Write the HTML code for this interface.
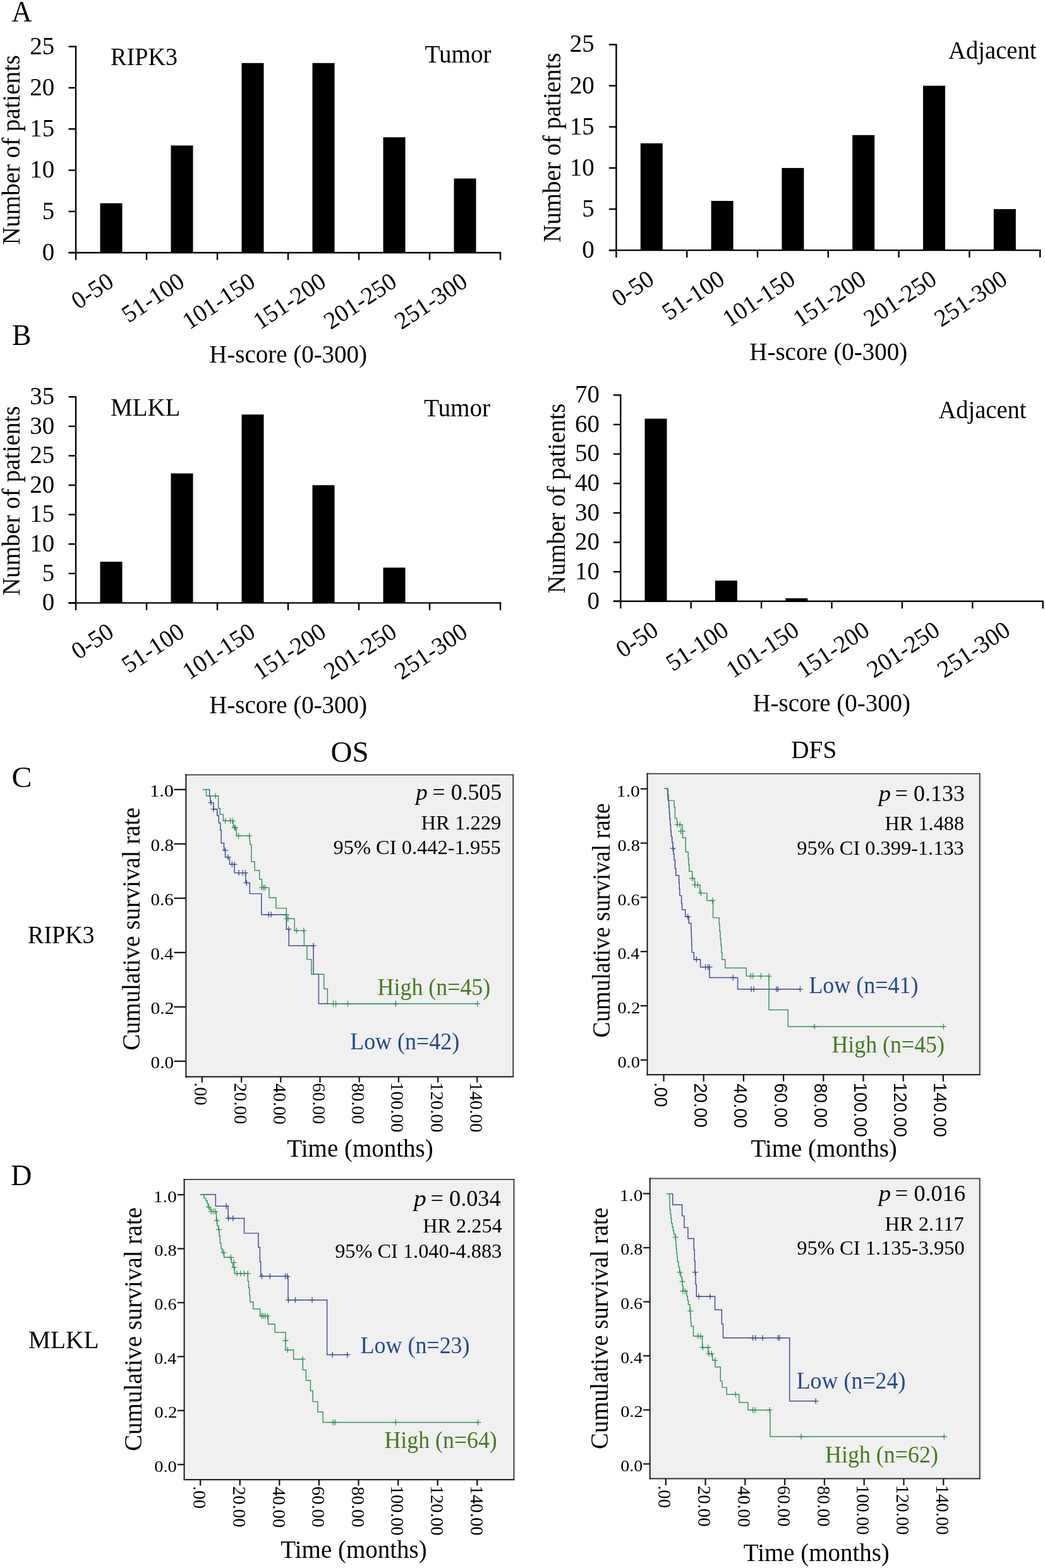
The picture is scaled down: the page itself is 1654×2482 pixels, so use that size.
<!DOCTYPE html>
<html><head><meta charset="utf-8"><title>RIPK3 and MLKL expression and survival</title>
<style>html,body{margin:0;padding:0;background:#fff}svg{display:block;font-family:'Liberation Serif','Times New Roman',serif}</style>
</head><body>
<svg width="1654" height="2482" viewBox="0 0 1654 2482">
<rect width="1654" height="2482" fill="#fff"/>
<text x="18.38" y="34" font-size="45.5" textLength="32.04" lengthAdjust="spacingAndGlyphs">A</text>
<text x="18.95" y="545.9" font-size="45.5" textLength="30.6" lengthAdjust="spacingAndGlyphs">B</text>
<text x="18.48" y="1245.6" font-size="45.5" textLength="32.02" lengthAdjust="spacingAndGlyphs">C</text>
<text x="17.35" y="1876.4" font-size="45.5" textLength="33.15" lengthAdjust="spacingAndGlyphs">D</text>
<line x1="120" y1="72.5" x2="120" y2="401.2" stroke="#000" stroke-width="2.4"/>
<line x1="108.5" y1="400" x2="120" y2="400" stroke="#000" stroke-width="2.4"/>
<text x="66.77" y="411.8" font-size="39" textLength="19.5" lengthAdjust="spacingAndGlyphs">0</text>
<line x1="108.5" y1="334.74" x2="120" y2="334.74" stroke="#000" stroke-width="2.4"/>
<text x="66.77" y="346.54" font-size="39" textLength="19.5" lengthAdjust="spacingAndGlyphs">5</text>
<line x1="108.5" y1="269.48" x2="120" y2="269.48" stroke="#000" stroke-width="2.4"/>
<text x="47.27" y="281.28" font-size="39" textLength="39" lengthAdjust="spacingAndGlyphs">10</text>
<line x1="108.5" y1="204.22" x2="120" y2="204.22" stroke="#000" stroke-width="2.4"/>
<text x="47.27" y="216.02" font-size="39" textLength="39" lengthAdjust="spacingAndGlyphs">15</text>
<line x1="108.5" y1="138.96" x2="120" y2="138.96" stroke="#000" stroke-width="2.4"/>
<text x="47.27" y="150.76" font-size="39" textLength="39" lengthAdjust="spacingAndGlyphs">20</text>
<line x1="108.5" y1="73.7" x2="120" y2="73.7" stroke="#000" stroke-width="2.4"/>
<text x="47.27" y="85.5" font-size="39" textLength="39" lengthAdjust="spacingAndGlyphs">25</text>
<line x1="108.5" y1="400" x2="793.2" y2="400" stroke="#000" stroke-width="2.4"/>
<line x1="120" y1="400" x2="120" y2="411.5" stroke="#000" stroke-width="2.4"/>
<line x1="232" y1="400" x2="232" y2="411.5" stroke="#000" stroke-width="2.4"/>
<line x1="344" y1="400" x2="344" y2="411.5" stroke="#000" stroke-width="2.4"/>
<line x1="456" y1="400" x2="456" y2="411.5" stroke="#000" stroke-width="2.4"/>
<line x1="568" y1="400" x2="568" y2="411.5" stroke="#000" stroke-width="2.4"/>
<line x1="680" y1="400" x2="680" y2="411.5" stroke="#000" stroke-width="2.4"/>
<line x1="792" y1="400" x2="792" y2="411.5" stroke="#000" stroke-width="2.4"/>
<rect x="158.5" y="321.69" width="35" height="78.31" fill="#000"/>
<text transform="translate(182.5,451.65) rotate(-33.5)" font-size="38.5" text-anchor="end">0-50</text>
<rect x="270.5" y="230.32" width="35" height="169.68" fill="#000"/>
<text transform="translate(294.5,451.65) rotate(-33.5)" font-size="38.5" text-anchor="end">51-100</text>
<rect x="382.5" y="99.8" width="35" height="300.2" fill="#000"/>
<text transform="translate(406.5,451.65) rotate(-33.5)" font-size="38.5" text-anchor="end">101-150</text>
<rect x="494.5" y="99.8" width="35" height="300.2" fill="#000"/>
<text transform="translate(518.5,451.65) rotate(-33.5)" font-size="38.5" text-anchor="end">151-200</text>
<rect x="606.5" y="217.27" width="35" height="182.73" fill="#000"/>
<text transform="translate(630.5,451.65) rotate(-33.5)" font-size="38.5" text-anchor="end">201-250</text>
<rect x="718.5" y="282.53" width="35" height="117.47" fill="#000"/>
<text transform="translate(742.5,451.65) rotate(-33.5)" font-size="38.5" text-anchor="end">251-300</text>
<text transform="translate(30.6,387.57) rotate(-90)" font-size="39" textLength="300.44" lengthAdjust="spacingAndGlyphs">Number of patients</text>
<text x="331.13" y="574" font-size="39" textLength="249.9" lengthAdjust="spacingAndGlyphs">H-score (0-300)</text>
<text x="175.05" y="102.7" font-size="39.5" textLength="105.93" lengthAdjust="spacingAndGlyphs">RIPK3</text>
<text x="672.51" y="99.3" font-size="40" textLength="105.14" lengthAdjust="spacingAndGlyphs">Tumor</text>
<line x1="975.4" y1="69.4" x2="975.4" y2="397.3" stroke="#000" stroke-width="2.4"/>
<line x1="963.9" y1="396.1" x2="975.4" y2="396.1" stroke="#000" stroke-width="2.4"/>
<text x="921.37" y="407.9" font-size="39" textLength="19.5" lengthAdjust="spacingAndGlyphs">0</text>
<line x1="963.9" y1="331" x2="975.4" y2="331" stroke="#000" stroke-width="2.4"/>
<text x="921.37" y="342.8" font-size="39" textLength="19.5" lengthAdjust="spacingAndGlyphs">5</text>
<line x1="963.9" y1="265.9" x2="975.4" y2="265.9" stroke="#000" stroke-width="2.4"/>
<text x="901.87" y="277.7" font-size="39" textLength="39" lengthAdjust="spacingAndGlyphs">10</text>
<line x1="963.9" y1="200.8" x2="975.4" y2="200.8" stroke="#000" stroke-width="2.4"/>
<text x="901.87" y="212.6" font-size="39" textLength="39" lengthAdjust="spacingAndGlyphs">15</text>
<line x1="963.9" y1="135.7" x2="975.4" y2="135.7" stroke="#000" stroke-width="2.4"/>
<text x="901.87" y="147.5" font-size="39" textLength="39" lengthAdjust="spacingAndGlyphs">20</text>
<line x1="963.9" y1="70.6" x2="975.4" y2="70.6" stroke="#000" stroke-width="2.4"/>
<text x="901.87" y="82.4" font-size="39" textLength="39" lengthAdjust="spacingAndGlyphs">25</text>
<line x1="963.9" y1="396.1" x2="1647.4" y2="396.1" stroke="#000" stroke-width="2.4"/>
<line x1="975.4" y1="396.1" x2="975.4" y2="407.6" stroke="#000" stroke-width="2.4"/>
<line x1="1087.2" y1="396.1" x2="1087.2" y2="407.6" stroke="#000" stroke-width="2.4"/>
<line x1="1199" y1="396.1" x2="1199" y2="407.6" stroke="#000" stroke-width="2.4"/>
<line x1="1310.8" y1="396.1" x2="1310.8" y2="407.6" stroke="#000" stroke-width="2.4"/>
<line x1="1422.6" y1="396.1" x2="1422.6" y2="407.6" stroke="#000" stroke-width="2.4"/>
<line x1="1534.4" y1="396.1" x2="1534.4" y2="407.6" stroke="#000" stroke-width="2.4"/>
<line x1="1646.2" y1="396.1" x2="1646.2" y2="407.6" stroke="#000" stroke-width="2.4"/>
<rect x="1013.8" y="226.84" width="35" height="169.26" fill="#000"/>
<text transform="translate(1037.8,447.75) rotate(-33.5)" font-size="38.5" text-anchor="end">0-50</text>
<rect x="1125.6" y="317.98" width="35" height="78.12" fill="#000"/>
<text transform="translate(1149.6,447.75) rotate(-33.5)" font-size="38.5" text-anchor="end">51-100</text>
<rect x="1237.4" y="265.9" width="35" height="130.2" fill="#000"/>
<text transform="translate(1261.4,447.75) rotate(-33.5)" font-size="38.5" text-anchor="end">101-150</text>
<rect x="1349.2" y="213.82" width="35" height="182.28" fill="#000"/>
<text transform="translate(1373.2,447.75) rotate(-33.5)" font-size="38.5" text-anchor="end">151-200</text>
<rect x="1461" y="135.7" width="35" height="260.4" fill="#000"/>
<text transform="translate(1485,447.75) rotate(-33.5)" font-size="38.5" text-anchor="end">201-250</text>
<rect x="1572.8" y="331" width="35" height="65.1" fill="#000"/>
<text transform="translate(1596.8,447.75) rotate(-33.5)" font-size="38.5" text-anchor="end">251-300</text>
<text transform="translate(886.6,383.67) rotate(-90)" font-size="39" textLength="300.04" lengthAdjust="spacingAndGlyphs">Number of patients</text>
<text x="1186.33" y="570.3" font-size="39" textLength="249.9" lengthAdjust="spacingAndGlyphs">H-score (0-300)</text>
<text x="1501.11" y="92.6" font-size="40" textLength="139.46" lengthAdjust="spacingAndGlyphs">Adjacent</text>
<line x1="120" y1="627" x2="120" y2="955.6" stroke="#000" stroke-width="2.4"/>
<line x1="108.5" y1="954.4" x2="120" y2="954.4" stroke="#000" stroke-width="2.4"/>
<text x="66.77" y="966.2" font-size="39" textLength="19.5" lengthAdjust="spacingAndGlyphs">0</text>
<line x1="108.5" y1="907.8" x2="120" y2="907.8" stroke="#000" stroke-width="2.4"/>
<text x="66.77" y="919.6" font-size="39" textLength="19.5" lengthAdjust="spacingAndGlyphs">5</text>
<line x1="108.5" y1="861.2" x2="120" y2="861.2" stroke="#000" stroke-width="2.4"/>
<text x="47.27" y="873" font-size="39" textLength="39" lengthAdjust="spacingAndGlyphs">10</text>
<line x1="108.5" y1="814.6" x2="120" y2="814.6" stroke="#000" stroke-width="2.4"/>
<text x="47.27" y="826.4" font-size="39" textLength="39" lengthAdjust="spacingAndGlyphs">15</text>
<line x1="108.5" y1="768" x2="120" y2="768" stroke="#000" stroke-width="2.4"/>
<text x="47.27" y="779.8" font-size="39" textLength="39" lengthAdjust="spacingAndGlyphs">20</text>
<line x1="108.5" y1="721.4" x2="120" y2="721.4" stroke="#000" stroke-width="2.4"/>
<text x="47.27" y="733.2" font-size="39" textLength="39" lengthAdjust="spacingAndGlyphs">25</text>
<line x1="108.5" y1="674.8" x2="120" y2="674.8" stroke="#000" stroke-width="2.4"/>
<text x="47.27" y="686.6" font-size="39" textLength="39" lengthAdjust="spacingAndGlyphs">30</text>
<line x1="108.5" y1="628.2" x2="120" y2="628.2" stroke="#000" stroke-width="2.4"/>
<text x="47.27" y="640" font-size="39" textLength="39" lengthAdjust="spacingAndGlyphs">35</text>
<line x1="108.5" y1="954.4" x2="793.2" y2="954.4" stroke="#000" stroke-width="2.4"/>
<line x1="120" y1="954.4" x2="120" y2="965.9" stroke="#000" stroke-width="2.4"/>
<line x1="232" y1="954.4" x2="232" y2="965.9" stroke="#000" stroke-width="2.4"/>
<line x1="344" y1="954.4" x2="344" y2="965.9" stroke="#000" stroke-width="2.4"/>
<line x1="456" y1="954.4" x2="456" y2="965.9" stroke="#000" stroke-width="2.4"/>
<line x1="568" y1="954.4" x2="568" y2="965.9" stroke="#000" stroke-width="2.4"/>
<line x1="680" y1="954.4" x2="680" y2="965.9" stroke="#000" stroke-width="2.4"/>
<line x1="792" y1="954.4" x2="792" y2="965.9" stroke="#000" stroke-width="2.4"/>
<rect x="158.5" y="889.16" width="35" height="65.24" fill="#000"/>
<text transform="translate(182.5,1006.05) rotate(-33.5)" font-size="38.5" text-anchor="end">0-50</text>
<rect x="270.5" y="749.36" width="35" height="205.04" fill="#000"/>
<text transform="translate(294.5,1006.05) rotate(-33.5)" font-size="38.5" text-anchor="end">51-100</text>
<rect x="382.5" y="656.16" width="35" height="298.24" fill="#000"/>
<text transform="translate(406.5,1006.05) rotate(-33.5)" font-size="38.5" text-anchor="end">101-150</text>
<rect x="494.5" y="768" width="35" height="186.4" fill="#000"/>
<text transform="translate(518.5,1006.05) rotate(-33.5)" font-size="38.5" text-anchor="end">151-200</text>
<rect x="606.5" y="898.48" width="35" height="55.92" fill="#000"/>
<text transform="translate(630.5,1006.05) rotate(-33.5)" font-size="38.5" text-anchor="end">201-250</text>
<text transform="translate(742.5,1006.05) rotate(-33.5)" font-size="38.5" text-anchor="end">251-300</text>
<text transform="translate(30.6,942.87) rotate(-90)" font-size="39" textLength="300.34" lengthAdjust="spacingAndGlyphs">Number of patients</text>
<text x="331.13" y="1128.8" font-size="39" textLength="249.9" lengthAdjust="spacingAndGlyphs">H-score (0-300)</text>
<text x="175.03" y="657.8" font-size="39.5" textLength="110.33" lengthAdjust="spacingAndGlyphs">MLKL</text>
<text x="670.91" y="659" font-size="40" textLength="105.14" lengthAdjust="spacingAndGlyphs">Tumor</text>
<line x1="982.3" y1="624.2" x2="982.3" y2="952.9" stroke="#000" stroke-width="2.4"/>
<line x1="970.8" y1="951.7" x2="982.3" y2="951.7" stroke="#000" stroke-width="2.4"/>
<text x="929.57" y="963.5" font-size="39" textLength="19.5" lengthAdjust="spacingAndGlyphs">0</text>
<line x1="970.8" y1="905.09" x2="982.3" y2="905.09" stroke="#000" stroke-width="2.4"/>
<text x="910.07" y="916.89" font-size="39" textLength="39" lengthAdjust="spacingAndGlyphs">10</text>
<line x1="970.8" y1="858.47" x2="982.3" y2="858.47" stroke="#000" stroke-width="2.4"/>
<text x="910.07" y="870.27" font-size="39" textLength="39" lengthAdjust="spacingAndGlyphs">20</text>
<line x1="970.8" y1="811.86" x2="982.3" y2="811.86" stroke="#000" stroke-width="2.4"/>
<text x="910.07" y="823.66" font-size="39" textLength="39" lengthAdjust="spacingAndGlyphs">30</text>
<line x1="970.8" y1="765.24" x2="982.3" y2="765.24" stroke="#000" stroke-width="2.4"/>
<text x="910.07" y="777.04" font-size="39" textLength="39" lengthAdjust="spacingAndGlyphs">40</text>
<line x1="970.8" y1="718.63" x2="982.3" y2="718.63" stroke="#000" stroke-width="2.4"/>
<text x="910.07" y="730.43" font-size="39" textLength="39" lengthAdjust="spacingAndGlyphs">50</text>
<line x1="970.8" y1="672.01" x2="982.3" y2="672.01" stroke="#000" stroke-width="2.4"/>
<text x="910.07" y="683.81" font-size="39" textLength="39" lengthAdjust="spacingAndGlyphs">60</text>
<line x1="970.8" y1="625.4" x2="982.3" y2="625.4" stroke="#000" stroke-width="2.4"/>
<text x="910.07" y="637.2" font-size="39" textLength="39" lengthAdjust="spacingAndGlyphs">70</text>
<line x1="970.8" y1="951.7" x2="1651.8" y2="951.7" stroke="#000" stroke-width="2.4"/>
<line x1="982.3" y1="951.7" x2="982.3" y2="963.2" stroke="#000" stroke-width="2.4"/>
<line x1="1093.7" y1="951.7" x2="1093.7" y2="963.2" stroke="#000" stroke-width="2.4"/>
<line x1="1205.1" y1="951.7" x2="1205.1" y2="963.2" stroke="#000" stroke-width="2.4"/>
<line x1="1316.5" y1="951.7" x2="1316.5" y2="963.2" stroke="#000" stroke-width="2.4"/>
<line x1="1427.9" y1="951.7" x2="1427.9" y2="963.2" stroke="#000" stroke-width="2.4"/>
<line x1="1539.3" y1="951.7" x2="1539.3" y2="963.2" stroke="#000" stroke-width="2.4"/>
<line x1="1650.7" y1="951.7" x2="1650.7" y2="963.2" stroke="#000" stroke-width="2.4"/>
<rect x="1020.5" y="662.69" width="35" height="289.01" fill="#000"/>
<text transform="translate(1044.5,1003.35) rotate(-33.5)" font-size="38.5" text-anchor="end">0-50</text>
<rect x="1131.9" y="919.07" width="35" height="32.63" fill="#000"/>
<text transform="translate(1155.9,1003.35) rotate(-33.5)" font-size="38.5" text-anchor="end">51-100</text>
<rect x="1243.3" y="947.04" width="35" height="4.66" fill="#000"/>
<text transform="translate(1267.3,1003.35) rotate(-33.5)" font-size="38.5" text-anchor="end">101-150</text>
<text transform="translate(1378.7,1003.35) rotate(-33.5)" font-size="38.5" text-anchor="end">151-200</text>
<text transform="translate(1490.1,1003.35) rotate(-33.5)" font-size="38.5" text-anchor="end">201-250</text>
<text transform="translate(1601.5,1003.35) rotate(-33.5)" font-size="38.5" text-anchor="end">251-300</text>
<text transform="translate(894.3,939.17) rotate(-90)" font-size="39" textLength="300.54" lengthAdjust="spacingAndGlyphs">Number of patients</text>
<text x="1191.53" y="1125.9" font-size="39" textLength="249.49" lengthAdjust="spacingAndGlyphs">H-score (0-300)</text>
<text x="1485.41" y="661.5" font-size="40" textLength="139.06" lengthAdjust="spacingAndGlyphs">Adjacent</text>
<rect x="296.4" y="1228.5" width="513.8" height="473.9" fill="#f0f0f0"/>
<line x1="293.4" y1="1226.5" x2="813.2" y2="1226.5" stroke="#4a4a4a" stroke-width="2"/>
<line x1="812.2" y1="1226.5" x2="812.2" y2="1704.4" stroke="#3c3c3c" stroke-width="2"/>
<line x1="293.4" y1="1704.4" x2="813.2" y2="1704.4" stroke="#262626" stroke-width="2.2"/>
<line x1="294.4" y1="1225.5" x2="294.4" y2="1705.4" stroke="#161616" stroke-width="2"/>
<line x1="275.5" y1="1249.8" x2="294.4" y2="1249.8" stroke="#1a1a1a" stroke-width="2.3"/>
<text x="237.01" y="1261.3" font-size="27" textLength="38.05" lengthAdjust="spacingAndGlyphs">1.0</text>
<line x1="275.5" y1="1335.8" x2="294.4" y2="1335.8" stroke="#1a1a1a" stroke-width="2.3"/>
<text x="238.58" y="1347.3" font-size="27" textLength="36.44" lengthAdjust="spacingAndGlyphs">0.8</text>
<line x1="275.5" y1="1421.8" x2="294.4" y2="1421.8" stroke="#1a1a1a" stroke-width="2.3"/>
<text x="238.59" y="1433.3" font-size="27" textLength="36.13" lengthAdjust="spacingAndGlyphs">0.6</text>
<line x1="275.5" y1="1507.8" x2="294.4" y2="1507.8" stroke="#1a1a1a" stroke-width="2.3"/>
<text x="238.6" y="1519.3" font-size="27" textLength="35.83" lengthAdjust="spacingAndGlyphs">0.4</text>
<line x1="275.5" y1="1593.8" x2="294.4" y2="1593.8" stroke="#1a1a1a" stroke-width="2.3"/>
<text x="238.56" y="1605.3" font-size="27" textLength="37.07" lengthAdjust="spacingAndGlyphs">0.2</text>
<line x1="275.5" y1="1679.8" x2="294.4" y2="1679.8" stroke="#1a1a1a" stroke-width="2.3"/>
<text x="238.58" y="1691.3" font-size="27" textLength="36.44" lengthAdjust="spacingAndGlyphs">0.0</text>
<line x1="319.9" y1="1704.4" x2="319.9" y2="1713.5" stroke="#1a1a1a" stroke-width="2.3"/>
<text transform="translate(308.4,1713.62) rotate(90)" font-size="28.8" textLength="36.09" lengthAdjust="spacingAndGlyphs">.00</text>
<line x1="382.1" y1="1704.4" x2="382.1" y2="1713.5" stroke="#1a1a1a" stroke-width="2.3"/>
<text transform="translate(370.6,1714.35) rotate(90)" font-size="28.8" textLength="64.97" lengthAdjust="spacingAndGlyphs">20.00</text>
<line x1="444.3" y1="1704.4" x2="444.3" y2="1713.5" stroke="#1a1a1a" stroke-width="2.3"/>
<text transform="translate(432.8,1715.07) rotate(90)" font-size="28.8" textLength="64.97" lengthAdjust="spacingAndGlyphs">40.00</text>
<line x1="506.5" y1="1704.4" x2="506.5" y2="1713.5" stroke="#1a1a1a" stroke-width="2.3"/>
<text transform="translate(495,1714.35) rotate(90)" font-size="28.8" textLength="64.97" lengthAdjust="spacingAndGlyphs">60.00</text>
<line x1="568.7" y1="1704.4" x2="568.7" y2="1713.5" stroke="#1a1a1a" stroke-width="2.3"/>
<text transform="translate(557.2,1714.49) rotate(90)" font-size="28.8" textLength="64.97" lengthAdjust="spacingAndGlyphs">80.00</text>
<line x1="630.9" y1="1704.4" x2="630.9" y2="1713.5" stroke="#1a1a1a" stroke-width="2.3"/>
<text transform="translate(619.4,1713.05) rotate(90)" font-size="28.8" textLength="79.4" lengthAdjust="spacingAndGlyphs">100.00</text>
<line x1="693.1" y1="1704.4" x2="693.1" y2="1713.5" stroke="#1a1a1a" stroke-width="2.3"/>
<text transform="translate(681.6,1713.05) rotate(90)" font-size="28.8" textLength="79.4" lengthAdjust="spacingAndGlyphs">120.00</text>
<line x1="755.3" y1="1704.4" x2="755.3" y2="1713.5" stroke="#1a1a1a" stroke-width="2.3"/>
<text transform="translate(743.8,1713.05) rotate(90)" font-size="28.8" textLength="79.4" lengthAdjust="spacingAndGlyphs">140.00</text>
<rect x="1026.6" y="1226.7" width="522.1" height="472.5" fill="#f0f0f0"/>
<line x1="1023.6" y1="1224.7" x2="1551.7" y2="1224.7" stroke="#4a4a4a" stroke-width="2"/>
<line x1="1550.7" y1="1224.7" x2="1550.7" y2="1701.2" stroke="#3c3c3c" stroke-width="2"/>
<line x1="1023.6" y1="1701.2" x2="1551.7" y2="1701.2" stroke="#262626" stroke-width="2.2"/>
<line x1="1024.6" y1="1223.7" x2="1024.6" y2="1702.2" stroke="#161616" stroke-width="2"/>
<line x1="1013.8" y1="1248.7" x2="1024.6" y2="1248.7" stroke="#1a1a1a" stroke-width="2.3"/>
<text x="975.88" y="1260.9" font-size="26" textLength="37.06" lengthAdjust="spacingAndGlyphs">1.0</text>
<line x1="1013.8" y1="1334.54" x2="1024.6" y2="1334.54" stroke="#1a1a1a" stroke-width="2.3"/>
<text x="977.41" y="1346.74" font-size="26" textLength="35.49" lengthAdjust="spacingAndGlyphs">0.8</text>
<line x1="1013.8" y1="1420.38" x2="1024.6" y2="1420.38" stroke="#1a1a1a" stroke-width="2.3"/>
<text x="977.41" y="1432.58" font-size="26" textLength="35.19" lengthAdjust="spacingAndGlyphs">0.6</text>
<line x1="1013.8" y1="1506.22" x2="1024.6" y2="1506.22" stroke="#1a1a1a" stroke-width="2.3"/>
<text x="977.42" y="1518.42" font-size="26" textLength="34.9" lengthAdjust="spacingAndGlyphs">0.4</text>
<line x1="1013.8" y1="1592.06" x2="1024.6" y2="1592.06" stroke="#1a1a1a" stroke-width="2.3"/>
<text x="977.39" y="1604.26" font-size="26" textLength="36.1" lengthAdjust="spacingAndGlyphs">0.2</text>
<line x1="1013.8" y1="1677.9" x2="1024.6" y2="1677.9" stroke="#1a1a1a" stroke-width="2.3"/>
<text x="977.41" y="1690.1" font-size="26" textLength="35.49" lengthAdjust="spacingAndGlyphs">0.0</text>
<line x1="1050.5" y1="1701.2" x2="1050.5" y2="1711.8" stroke="#1a1a1a" stroke-width="2.3"/>
<text transform="translate(1035.9,1713.27) rotate(90)" font-size="28.6" font-family="'Liberation Sans',Arial,sans-serif" textLength="39.14" lengthAdjust="spacingAndGlyphs">.00</text>
<line x1="1113.7" y1="1701.2" x2="1113.7" y2="1711.8" stroke="#1a1a1a" stroke-width="2.3"/>
<text transform="translate(1099.1,1714.39) rotate(90)" font-size="28.6" font-family="'Liberation Sans',Arial,sans-serif" textLength="70.46" lengthAdjust="spacingAndGlyphs">20.00</text>
<line x1="1176.9" y1="1701.2" x2="1176.9" y2="1711.8" stroke="#1a1a1a" stroke-width="2.3"/>
<text transform="translate(1162.3,1715.24) rotate(90)" font-size="28.6" font-family="'Liberation Sans',Arial,sans-serif" textLength="70.46" lengthAdjust="spacingAndGlyphs">40.00</text>
<line x1="1240.1" y1="1701.2" x2="1240.1" y2="1711.8" stroke="#1a1a1a" stroke-width="2.3"/>
<text transform="translate(1225.5,1714.39) rotate(90)" font-size="28.6" font-family="'Liberation Sans',Arial,sans-serif" textLength="70.46" lengthAdjust="spacingAndGlyphs">60.00</text>
<line x1="1303.3" y1="1701.2" x2="1303.3" y2="1711.8" stroke="#1a1a1a" stroke-width="2.3"/>
<text transform="translate(1288.7,1714.67) rotate(90)" font-size="28.6" font-family="'Liberation Sans',Arial,sans-serif" textLength="70.46" lengthAdjust="spacingAndGlyphs">80.00</text>
<line x1="1366.5" y1="1701.2" x2="1366.5" y2="1711.8" stroke="#1a1a1a" stroke-width="2.3"/>
<text transform="translate(1351.9,1713.69) rotate(90)" font-size="28.6" font-family="'Liberation Sans',Arial,sans-serif" textLength="86.12" lengthAdjust="spacingAndGlyphs">100.00</text>
<line x1="1429.7" y1="1701.2" x2="1429.7" y2="1711.8" stroke="#1a1a1a" stroke-width="2.3"/>
<text transform="translate(1415.1,1713.69) rotate(90)" font-size="28.6" font-family="'Liberation Sans',Arial,sans-serif" textLength="86.12" lengthAdjust="spacingAndGlyphs">120.00</text>
<line x1="1492.9" y1="1701.2" x2="1492.9" y2="1711.8" stroke="#1a1a1a" stroke-width="2.3"/>
<text transform="translate(1478.3,1713.69) rotate(90)" font-size="28.6" font-family="'Liberation Sans',Arial,sans-serif" textLength="86.12" lengthAdjust="spacingAndGlyphs">140.00</text>
<rect x="293.6" y="1869.1" width="517.8" height="471" fill="#f0f0f0"/>
<line x1="290.6" y1="1867.1" x2="814.4" y2="1867.1" stroke="#4a4a4a" stroke-width="2"/>
<line x1="813.4" y1="1867.1" x2="813.4" y2="2342.1" stroke="#3c3c3c" stroke-width="2"/>
<line x1="290.6" y1="2342.1" x2="814.4" y2="2342.1" stroke="#262626" stroke-width="2.2"/>
<line x1="291.6" y1="1866.1" x2="291.6" y2="2343.1" stroke="#161616" stroke-width="2"/>
<line x1="280.9" y1="1891.1" x2="291.6" y2="1891.1" stroke="#1a1a1a" stroke-width="2.3"/>
<text x="242.67" y="1902.5" font-size="25.5" textLength="37.17" lengthAdjust="spacingAndGlyphs">1.0</text>
<line x1="280.9" y1="1976.52" x2="291.6" y2="1976.52" stroke="#1a1a1a" stroke-width="2.3"/>
<text x="244.2" y="1987.92" font-size="25.5" textLength="35.59" lengthAdjust="spacingAndGlyphs">0.8</text>
<line x1="280.9" y1="2061.94" x2="291.6" y2="2061.94" stroke="#1a1a1a" stroke-width="2.3"/>
<text x="244.21" y="2073.34" font-size="25.5" textLength="35.29" lengthAdjust="spacingAndGlyphs">0.6</text>
<line x1="280.9" y1="2147.36" x2="291.6" y2="2147.36" stroke="#1a1a1a" stroke-width="2.3"/>
<text x="244.22" y="2158.76" font-size="25.5" textLength="35" lengthAdjust="spacingAndGlyphs">0.4</text>
<line x1="280.9" y1="2232.78" x2="291.6" y2="2232.78" stroke="#1a1a1a" stroke-width="2.3"/>
<text x="244.19" y="2244.18" font-size="25.5" textLength="36.21" lengthAdjust="spacingAndGlyphs">0.2</text>
<line x1="280.9" y1="2318.2" x2="291.6" y2="2318.2" stroke="#1a1a1a" stroke-width="2.3"/>
<text x="244.2" y="2329.6" font-size="25.5" textLength="35.59" lengthAdjust="spacingAndGlyphs">0.0</text>
<line x1="317.1" y1="2342.1" x2="317.1" y2="2351.5" stroke="#1a1a1a" stroke-width="2.3"/>
<text transform="translate(306.4,2352.13) rotate(90)" font-size="28.5" textLength="35.98" lengthAdjust="spacingAndGlyphs">.00</text>
<line x1="379.7" y1="2342.1" x2="379.7" y2="2351.5" stroke="#1a1a1a" stroke-width="2.3"/>
<text transform="translate(369,2352.85) rotate(90)" font-size="28.5" textLength="64.76" lengthAdjust="spacingAndGlyphs">20.00</text>
<line x1="442.3" y1="2342.1" x2="442.3" y2="2351.5" stroke="#1a1a1a" stroke-width="2.3"/>
<text transform="translate(431.6,2353.57) rotate(90)" font-size="28.5" textLength="64.76" lengthAdjust="spacingAndGlyphs">40.00</text>
<line x1="504.9" y1="2342.1" x2="504.9" y2="2351.5" stroke="#1a1a1a" stroke-width="2.3"/>
<text transform="translate(494.2,2352.85) rotate(90)" font-size="28.5" textLength="64.76" lengthAdjust="spacingAndGlyphs">60.00</text>
<line x1="567.5" y1="2342.1" x2="567.5" y2="2351.5" stroke="#1a1a1a" stroke-width="2.3"/>
<text transform="translate(556.8,2352.99) rotate(90)" font-size="28.5" textLength="64.76" lengthAdjust="spacingAndGlyphs">80.00</text>
<line x1="630.1" y1="2342.1" x2="630.1" y2="2351.5" stroke="#1a1a1a" stroke-width="2.3"/>
<text transform="translate(619.4,2351.55) rotate(90)" font-size="28.5" textLength="79.15" lengthAdjust="spacingAndGlyphs">100.00</text>
<line x1="692.7" y1="2342.1" x2="692.7" y2="2351.5" stroke="#1a1a1a" stroke-width="2.3"/>
<text transform="translate(682,2351.55) rotate(90)" font-size="28.5" textLength="79.15" lengthAdjust="spacingAndGlyphs">120.00</text>
<line x1="755.3" y1="2342.1" x2="755.3" y2="2351.5" stroke="#1a1a1a" stroke-width="2.3"/>
<text transform="translate(744.6,2351.55) rotate(90)" font-size="28.5" textLength="79.15" lengthAdjust="spacingAndGlyphs">140.00</text>
<rect x="1030.7" y="1867.5" width="518" height="471" fill="#f0f0f0"/>
<line x1="1027.7" y1="1865.5" x2="1551.7" y2="1865.5" stroke="#4a4a4a" stroke-width="2"/>
<line x1="1550.7" y1="1865.5" x2="1550.7" y2="2340.5" stroke="#3c3c3c" stroke-width="2"/>
<line x1="1027.7" y1="2340.5" x2="1551.7" y2="2340.5" stroke="#262626" stroke-width="2.2"/>
<line x1="1028.7" y1="1864.5" x2="1028.7" y2="2341.5" stroke="#161616" stroke-width="2"/>
<line x1="1018.2" y1="1889.4" x2="1028.7" y2="1889.4" stroke="#1a1a1a" stroke-width="2.3"/>
<text x="980.71" y="1900.8" font-size="25.5" textLength="36.62" lengthAdjust="spacingAndGlyphs">1.0</text>
<line x1="1018.2" y1="1974.98" x2="1028.7" y2="1974.98" stroke="#1a1a1a" stroke-width="2.3"/>
<text x="982.22" y="1986.38" font-size="25.5" textLength="35.06" lengthAdjust="spacingAndGlyphs">0.8</text>
<line x1="1018.2" y1="2060.56" x2="1028.7" y2="2060.56" stroke="#1a1a1a" stroke-width="2.3"/>
<text x="982.23" y="2071.96" font-size="25.5" textLength="34.77" lengthAdjust="spacingAndGlyphs">0.6</text>
<line x1="1018.2" y1="2146.14" x2="1028.7" y2="2146.14" stroke="#1a1a1a" stroke-width="2.3"/>
<text x="982.23" y="2157.54" font-size="25.5" textLength="34.48" lengthAdjust="spacingAndGlyphs">0.4</text>
<line x1="1018.2" y1="2231.72" x2="1028.7" y2="2231.72" stroke="#1a1a1a" stroke-width="2.3"/>
<text x="982.2" y="2243.12" font-size="25.5" textLength="35.67" lengthAdjust="spacingAndGlyphs">0.2</text>
<line x1="1018.2" y1="2317.3" x2="1028.7" y2="2317.3" stroke="#1a1a1a" stroke-width="2.3"/>
<text x="982.22" y="2328.7" font-size="25.5" textLength="35.06" lengthAdjust="spacingAndGlyphs">0.0</text>
<line x1="1053.8" y1="2340.5" x2="1053.8" y2="2351" stroke="#1a1a1a" stroke-width="2.3"/>
<text transform="translate(1042.4,2351.13) rotate(90)" font-size="28.5" textLength="35.98" lengthAdjust="spacingAndGlyphs">.00</text>
<line x1="1116.58" y1="2340.5" x2="1116.58" y2="2351" stroke="#1a1a1a" stroke-width="2.3"/>
<text transform="translate(1105.18,2351.85) rotate(90)" font-size="28.5" textLength="64.76" lengthAdjust="spacingAndGlyphs">20.00</text>
<line x1="1179.36" y1="2340.5" x2="1179.36" y2="2351" stroke="#1a1a1a" stroke-width="2.3"/>
<text transform="translate(1167.96,2352.57) rotate(90)" font-size="28.5" textLength="64.76" lengthAdjust="spacingAndGlyphs">40.00</text>
<line x1="1242.14" y1="2340.5" x2="1242.14" y2="2351" stroke="#1a1a1a" stroke-width="2.3"/>
<text transform="translate(1230.74,2351.85) rotate(90)" font-size="28.5" textLength="64.76" lengthAdjust="spacingAndGlyphs">60.00</text>
<line x1="1304.92" y1="2340.5" x2="1304.92" y2="2351" stroke="#1a1a1a" stroke-width="2.3"/>
<text transform="translate(1293.52,2351.99) rotate(90)" font-size="28.5" textLength="64.76" lengthAdjust="spacingAndGlyphs">80.00</text>
<line x1="1367.7" y1="2340.5" x2="1367.7" y2="2351" stroke="#1a1a1a" stroke-width="2.3"/>
<text transform="translate(1356.3,2350.55) rotate(90)" font-size="28.5" textLength="79.15" lengthAdjust="spacingAndGlyphs">100.00</text>
<line x1="1430.48" y1="2340.5" x2="1430.48" y2="2351" stroke="#1a1a1a" stroke-width="2.3"/>
<text transform="translate(1419.08,2350.55) rotate(90)" font-size="28.5" textLength="79.15" lengthAdjust="spacingAndGlyphs">120.00</text>
<line x1="1493.26" y1="2340.5" x2="1493.26" y2="2351" stroke="#1a1a1a" stroke-width="2.3"/>
<text transform="translate(1481.86,2350.55) rotate(90)" font-size="28.5" textLength="79.15" lengthAdjust="spacingAndGlyphs">140.00</text>
<text x="523.42" y="1205.5" font-size="46" textLength="60.16" lengthAdjust="spacingAndGlyphs">OS</text>
<text x="1252.32" y="1200.2" font-size="39.5" textLength="71.91" lengthAdjust="spacingAndGlyphs">DFS</text>
<text x="44.05" y="1493" font-size="39.5" textLength="105.52" lengthAdjust="spacingAndGlyphs">RIPK3</text>
<text x="45.12" y="2133.7" font-size="39" textLength="111.36" lengthAdjust="spacingAndGlyphs">MLKL</text>
<text transform="translate(221,1662.86) rotate(-90)" font-size="40.5" textLength="384.56" lengthAdjust="spacingAndGlyphs">Cumulative survival rate</text>
<text transform="translate(965,1642.5) rotate(-90)" font-size="40.5" textLength="371.26" lengthAdjust="spacingAndGlyphs">Cumulative survival rate</text>
<text transform="translate(224,2296.96) rotate(-90)" font-size="40.5" textLength="385.77" lengthAdjust="spacingAndGlyphs">Cumulative survival rate</text>
<text transform="translate(961.6,2294.05) rotate(-90)" font-size="40.5" textLength="382.85" lengthAdjust="spacingAndGlyphs">Cumulative survival rate</text>
<text x="454.32" y="1830.6" font-size="40.5" textLength="231.38" lengthAdjust="spacingAndGlyphs">Time (months)</text>
<text x="1188.52" y="1831.1" font-size="40.5" textLength="231.28" lengthAdjust="spacingAndGlyphs">Time (months)</text>
<text x="444.32" y="2466.1" font-size="40.5" textLength="231.38" lengthAdjust="spacingAndGlyphs">Time (months)</text>
<text x="1176.82" y="2470.6" font-size="40.5" textLength="230.98" lengthAdjust="spacingAndGlyphs">Time (months)</text>
<text x="658.32" y="1266.2" font-size="35" font-style="italic" textLength="18.49" lengthAdjust="spacingAndGlyphs">p</text>
<text x="684.59" y="1266.2" font-size="35" textLength="109.52" lengthAdjust="spacingAndGlyphs">= 0.505</text>
<text x="666.48" y="1313.1" font-size="32.5" textLength="126.9" lengthAdjust="spacingAndGlyphs">HR 1.229</text>
<text x="527.43" y="1352" font-size="32.5" textLength="265.25" lengthAdjust="spacingAndGlyphs">95% CI 0.442-1.955</text>
<text x="1390.72" y="1267.9" font-size="35" font-style="italic" textLength="19.34" lengthAdjust="spacingAndGlyphs">p</text>
<text x="1416.88" y="1267.9" font-size="35" textLength="110.04" lengthAdjust="spacingAndGlyphs">= 0.133</text>
<text x="1400.49" y="1314.1" font-size="32.5" textLength="125.61" lengthAdjust="spacingAndGlyphs">HR 1.488</text>
<text x="1261.33" y="1352.7" font-size="32.5" textLength="264.44" lengthAdjust="spacingAndGlyphs">95% CI 0.399-1.133</text>
<text x="654.98" y="1909" font-size="35" font-style="italic" textLength="19.81" lengthAdjust="spacingAndGlyphs">p</text>
<text x="681.47" y="1909" font-size="35" textLength="111.14" lengthAdjust="spacingAndGlyphs">= 0.034</text>
<text x="669.19" y="1951.1" font-size="32.5" textLength="125.47" lengthAdjust="spacingAndGlyphs">HR 2.254</text>
<text x="530.13" y="1990.5" font-size="32.5" textLength="264.14" lengthAdjust="spacingAndGlyphs">95% CI 1.040-4.883</text>
<text x="1390.72" y="1901.4" font-size="35" font-style="italic" textLength="19.34" lengthAdjust="spacingAndGlyphs">p</text>
<text x="1416.87" y="1901.4" font-size="35" textLength="111.2" lengthAdjust="spacingAndGlyphs">= 0.016</text>
<text x="1400.49" y="1947.6" font-size="32.5" textLength="125.4" lengthAdjust="spacingAndGlyphs">HR 2.117</text>
<text x="1261.32" y="1986.2" font-size="32.5" textLength="265.55" lengthAdjust="spacingAndGlyphs">95% CI 1.135-3.950</text>
<text x="597.6" y="1574.7" font-size="37.5" fill="#457a24" textLength="178.61" lengthAdjust="spacingAndGlyphs">High (n=45)</text>
<text x="554.2" y="1661" font-size="37.5" fill="#23498f" textLength="172.95" lengthAdjust="spacingAndGlyphs">Low (n=42)</text>
<text x="1280.4" y="1572.3" font-size="37.5" fill="#23498f" textLength="173.15" lengthAdjust="spacingAndGlyphs">Low (n=41)</text>
<text x="1316.5" y="1665.6" font-size="37.5" fill="#457a24" textLength="178.41" lengthAdjust="spacingAndGlyphs">High (n=45)</text>
<text x="570.6" y="2141.7" font-size="37.5" fill="#23498f" textLength="172.95" lengthAdjust="spacingAndGlyphs">Low (n=23)</text>
<text x="608.51" y="2291.9" font-size="37.5" fill="#457a24" textLength="178.21" lengthAdjust="spacingAndGlyphs">High (n=64)</text>
<text x="1260.7" y="2198.2" font-size="37.5" fill="#23498f" textLength="172.75" lengthAdjust="spacingAndGlyphs">Low (n=24)</text>
<text x="1306" y="2315.4" font-size="37.5" fill="#457a24" textLength="178.92" lengthAdjust="spacingAndGlyphs">High (n=62)</text>
<polyline points="320.7,1249.6 331.6,1249.6 331.6,1260.4 332.9,1260.4 332.9,1270.6 338,1270.6 338,1280.8 343.7,1280.8 343.7,1291 346.3,1291 346.3,1302.5 348.8,1302.5 348.8,1314 350.1,1314 350.1,1334.4 354.5,1334.4 354.5,1345.9 356.5,1345.9 356.5,1356.7 360.9,1356.7 360.9,1358.6 363.5,1358.6 363.5,1368.2 371.1,1368.2 371.1,1381.6 388.9,1381.6 388.9,1397.4 395.3,1397.4 395.3,1414.6 413.8,1414.6 413.8,1447.8 453.3,1447.8 453.3,1470.8 457.2,1470.8 457.2,1496.9 496.1,1496.9 496.1,1542.2 504.4,1542.2 504.4,1588.8 626.3,1588.8" fill="none" stroke="#3f4c92" stroke-width="1.45" stroke-linejoin="miter"/>
<path d="M334.1 1266.1v9.0M329.6 1270.6h9.0M338 1276.3v9.0M333.5 1280.8h9.0M356.5 1341.4v9.0M352 1345.9h9.0M360.9 1352.2v9.0M356.4 1356.7h9.0M367.3 1363.7v9.0M362.8 1368.2h9.0M371.1 1363.7v9.0M366.6 1368.2h9.0M378.1 1377.1v9.0M373.6 1381.6h9.0M383.9 1377.1v9.0M379.4 1381.6h9.0M388.3 1377.1v9.0M383.8 1381.6h9.0M390.2 1392.9v9.0M385.7 1397.4h9.0M425.3 1443.3v9.0M420.8 1447.8h9.0M429.1 1443.3v9.0M424.6 1447.8h9.0M453.3 1443.3v9.0M448.8 1447.8h9.0M457.2 1466.3v9.0M452.7 1470.8h9.0M496.1 1492.4v9.0M491.6 1496.9h9.0M626.3 1584.3v9.0M621.8 1588.8h9.0" stroke="#3f4c92" stroke-width="1.3" fill="none"/>
<polyline points="320.7,1249.6 326.5,1249.6 326.5,1259.8 345.6,1259.8 345.6,1279.5 348.2,1279.5 348.2,1289.1 353.3,1289.1 353.3,1299.3 369.2,1299.3 369.2,1310.2 374.3,1310.2 374.3,1322.9 394.7,1322.9 396,1336.9 397.9,1336.9 397.9,1363.7 403,1363.7 403,1377.8 410.7,1377.8 410.7,1391.8 414.5,1391.8 414.5,1405.1 425.9,1405.1 425.9,1421 436.8,1421 436.8,1437.6 453.3,1437.6 453.3,1454.2 466.1,1454.2 466.1,1473.1 481.4,1473.1 481.4,1496.9 485.9,1496.9 485.9,1518.6 492.9,1518.6 492.9,1542.2 512.7,1542.2 512.7,1565.2 518.4,1565.2 518.4,1588.8 755.7,1588.8" fill="none" stroke="#34945a" stroke-width="1.45" stroke-linejoin="miter"/>
<path d="M341.1 1255.3v9.0M336.6 1259.8h9.0M356.6 1294.8v9.0M352.1 1299.3h9.0M364.5 1294.8v9.0M360 1299.3h9.0M368 1294.8v9.0M363.5 1299.3h9.0M371.1 1305.7v9.0M366.6 1310.2h9.0M372.5 1305.7v9.0M368 1310.2h9.0M377.5 1318.4v9.0M373 1322.9h9.0M394.7 1318.4v9.0M390.2 1322.9h9.0M414.4 1400.6v9.0M409.9 1405.1h9.0M417 1400.6v9.0M412.5 1405.1h9.0M419.5 1400.6v9.0M415 1405.1h9.0M454 1449.7v9.0M449.5 1454.2h9.0M456 1449.7v9.0M451.5 1454.2h9.0M469.3 1468.6v9.0M464.8 1473.1h9.0M480.8 1468.6v9.0M476.3 1473.1h9.0M527.4 1584.3v9.0M522.9 1588.8h9.0M531.6 1584.3v9.0M527.1 1588.8h9.0M550.5 1584.3v9.0M546 1588.8h9.0M755.7 1584.3v9.0M751.2 1588.8h9.0" stroke="#34945a" stroke-width="1.3" fill="none"/>
<polyline points="1051.4,1248.3 1056.2,1248.3 1057.15,1248.3 1057.15,1258.15 1058.1,1258.15 1058.1,1268 1058.73,1268 1058.73,1277.33 1059.37,1277.33 1059.37,1286.67 1060,1286.67 1060,1296 1060.77,1296 1060.77,1305.37 1061.53,1305.37 1061.53,1314.73 1062.3,1314.73 1062.3,1324.1 1063.7,1324.1 1063.7,1333.5 1065.1,1333.5 1065.1,1342.8 1066.05,1342.8 1066.05,1352.15 1067,1352.15 1067,1361.5 1068.4,1361.5 1068.4,1374.6 1069.8,1374.6 1069.8,1385.8 1074,1385.8 1074.6,1385.8 1074.6,1396.4 1075.2,1396.4 1075.2,1407 1075.8,1407 1075.8,1417.6 1078.6,1417.6 1078.6,1429.7 1079.6,1429.7 1079.6,1439.9 1084.7,1439.9 1084.7,1451 1090.3,1451 1090.3,1461.4 1093.5,1461.4 1093.9,1461.4 1093.9,1472.95 1094.3,1472.95 1094.3,1484.5 1094.7,1484.5 1094.7,1496.05 1095.1,1496.05 1095.1,1507.6 1098.3,1507.6 1098.3,1518.8 1108.6,1518.8 1108.6,1530.7 1123,1530.7 1123,1547.5 1167.6,1547.5 1167.6,1565.8 1266.5,1565.8" fill="none" stroke="#3f4c92" stroke-width="1.45" stroke-linejoin="miter"/>
<path d="M1065.1 1338.3v9.0M1060.6 1342.8h9.0M1088.7 1446.5v9.0M1084.2 1451h9.0M1102.3 1514.3v9.0M1097.8 1518.8h9.0M1116.6 1526.2v9.0M1112.1 1530.7h9.0M1120.6 1526.2v9.0M1116.1 1530.7h9.0M1123 1526.2v9.0M1118.5 1530.7h9.0M1160.4 1543v9.0M1155.9 1547.5h9.0M1189.1 1561.3v9.0M1184.6 1565.8h9.0M1193.1 1561.3v9.0M1188.6 1565.8h9.0M1229 1561.3v9.0M1224.5 1565.8h9.0M1231.4 1561.3v9.0M1226.9 1565.8h9.0M1266.5 1561.3v9.0M1262 1565.8h9.0" stroke="#3f4c92" stroke-width="1.3" fill="none"/>
<polyline points="1051.4,1248.3 1056.2,1248.3 1057.1,1267.1 1067,1267.1 1067,1277.4 1068.4,1277.4 1068.4,1295.1 1071.2,1295.1 1072.1,1305.4 1079.6,1305.4 1080.5,1315.7 1080.5,1326 1085.2,1326 1085.2,1348.4 1088.5,1348.4 1089.27,1348.4 1089.27,1358.7 1090.03,1358.7 1090.03,1369 1090.8,1369 1090.8,1379.3 1095.5,1379.3 1095.9,1390.5 1099.2,1390.5 1100.1,1400.7 1107.8,1400.7 1107.8,1413.6 1119,1413.6 1119,1425.5 1128.6,1425.5 1128.6,1452.6 1137.3,1452.6 1138.22,1452.6 1138.22,1463.63 1139.13,1463.63 1139.13,1474.67 1140.05,1474.67 1140.05,1485.7 1140.97,1485.7 1140.97,1496.73 1141.88,1496.73 1141.88,1507.77 1142.8,1507.77 1142.8,1518.8 1147.7,1518.8 1147.7,1532.3 1181.2,1532.3 1181.2,1545.1 1217,1545.1 1217,1598.5 1247.3,1598.5 1247.3,1625 1493.3,1625" fill="none" stroke="#34945a" stroke-width="1.45" stroke-linejoin="miter"/>
<path d="M1072.1 1300.9v9.0M1067.6 1305.4h9.0M1076.3 1300.9v9.0M1071.8 1305.4h9.0M1077.6 1311.2v9.0M1073.1 1315.7h9.0M1080.5 1311.2v9.0M1076 1315.7h9.0M1095.9 1386v9.0M1091.4 1390.5h9.0M1099.8 1396.2v9.0M1095.3 1400.7h9.0M1104.3 1396.2v9.0M1099.8 1400.7h9.0M1109.4 1409.1v9.0M1104.9 1413.6h9.0M1127.8 1421v9.0M1123.3 1425.5h9.0M1188.3 1540.6v9.0M1183.8 1545.1h9.0M1191.5 1540.6v9.0M1187 1545.1h9.0M1204.3 1540.6v9.0M1199.8 1545.1h9.0M1217 1540.6v9.0M1212.5 1545.1h9.0M1289.1 1620.5v9.0M1284.6 1625h9.0M1493.3 1620.5v9.0M1488.8 1625h9.0" stroke="#34945a" stroke-width="1.3" fill="none"/>
<polyline points="317,1890.8 341.3,1890.8 341.3,1909.3 361,1909.3 361,1928.5 386.5,1928.5 386.5,1952.1 408.9,1952.1 408.9,1974.4 411.4,1974.4 411.4,1997.3 412.7,1997.3 412.7,2020.3 456,2020.3 456,2057.8 517.6,2057.8 517.6,2144.4 552,2144.4" fill="none" stroke="#3f4c92" stroke-width="1.45" stroke-linejoin="miter"/>
<path d="M358.2 1904.8v9.0M353.7 1909.3h9.0M361.7 1924v9.0M357.2 1928.5h9.0M368.7 1924v9.0M364.2 1928.5h9.0M414.6 2015.8v9.0M410.1 2020.3h9.0M427.3 2015.8v9.0M422.8 2020.3h9.0M451.6 2015.8v9.0M447.1 2020.3h9.0M454.8 2015.8v9.0M450.3 2020.3h9.0M456.5 2053.3v9.0M452 2057.8h9.0M467.3 2053.3v9.0M462.8 2057.8h9.0M494 2053.3v9.0M489.5 2057.8h9.0M526.2 2139.9v9.0M521.7 2144.4h9.0M549.7 2139.9v9.0M545.2 2144.4h9.0" stroke="#3f4c92" stroke-width="1.3" fill="none"/>
<polyline points="317,1890.8 322.8,1890.8 322.8,1896.6 325.9,1896.6 325.9,1900.4 327.9,1900.4 327.9,1904.2 329.1,1904.2 329.1,1910.6 332.3,1910.6 332.3,1914.4 334.2,1914.4 334.2,1917.6 342.5,1917.6 342.5,1931.9 343.8,1931.9 343.8,1940 345.7,1940 345.7,1946.3 347,1946.3 347,1956.5 348.3,1956.5 348.3,1968 350.2,1968 350.2,1976.9 352.1,1976.9 352.1,1982.7 354.6,1982.7 354.6,1990.3 363.6,1990.3 363.6,1991 366.1,1991 366.1,1998.6 368.7,1998.6 368.7,2006.3 371.2,2006.3 371.2,2015.8 392.3,2015.8 392.3,2028 393.5,2028 393.5,2038.2 394.8,2038.2 394.8,2049.6 395.7,2049.6 395.7,2060.8 400.8,2060.8 400.8,2071.9 411.7,2071.9 411.7,2082.9 424.4,2082.9 424.4,2095.9 435.3,2095.9 435.3,2108.9 451.9,2108.9 451.9,2136.7 464.6,2136.7 464.6,2151.4 479.3,2151.4 479.3,2168.4 484.4,2168.4 484.4,2185 491.4,2185 491.4,2201.5 495.2,2201.5 495.2,2218.6 502.9,2218.6 502.9,2235 511.2,2235 511.2,2251.5 756.7,2251.5" fill="none" stroke="#34945a" stroke-width="1.45" stroke-linejoin="miter"/>
<path d="M330.4 1906.1v9.0M325.9 1910.6h9.0M334.2 1913.1v9.0M329.7 1917.6h9.0M337.4 1913.1v9.0M332.9 1917.6h9.0M340.6 1913.1v9.0M336.1 1917.6h9.0M343.2 1927.4v9.0M338.7 1931.9h9.0M346.4 1941.8v9.0M341.9 1946.3h9.0M354 1978.2v9.0M349.5 1982.7h9.0M365.5 1985.8v9.0M361 1990.3h9.0M370 1994.1v9.0M365.5 1998.6h9.0M370.6 2001.8v9.0M366.1 2006.3h9.0M375.1 2011.3v9.0M370.6 2015.8h9.0M380.8 2011.3v9.0M376.3 2015.8h9.0M386.5 2011.3v9.0M382 2015.8h9.0M392.3 2011.3v9.0M387.8 2015.8h9.0M414.2 2078.4v9.0M409.7 2082.9h9.0M416.5 2078.4v9.0M412 2082.9h9.0M419.5 2078.4v9.0M415 2082.9h9.0M423.2 2078.4v9.0M418.7 2082.9h9.0M451.9 2117.5v9.0M447.4 2122h9.0M455 2132.2v9.0M450.5 2136.7h9.0M479.3 2146.9v9.0M474.8 2151.4h9.0M527.1 2247v9.0M522.6 2251.5h9.0M530.3 2247v9.0M525.8 2251.5h9.0M626.3 2247v9.0M621.8 2251.5h9.0M756.7 2247v9.0M752.2 2251.5h9.0" stroke="#34945a" stroke-width="1.3" fill="none"/>
<polyline points="1055.1,1889.6 1064.7,1889.6 1064.7,1907 1079.6,1907 1079.6,1924.6 1082.9,1924.6 1082.9,1943.1 1088.9,1943.1 1088.9,1960.4 1097.4,1960.4 1098.3,1960.4 1098.3,1978.23 1099.2,1978.23 1099.2,1996.07 1100.1,1996.07 1100.1,2013.9 1101,2013.9 1101,2033 1102.3,2033 1102.3,2052.2 1131.6,2052.2 1131.6,2073.3 1142.4,2073.3 1142.4,2095.8 1144.5,2095.8 1144.5,2117.8 1249.8,2117.8 1249.8,2217.8 1291.9,2217.8" fill="none" stroke="#3f4c92" stroke-width="1.45" stroke-linejoin="miter"/>
<path d="M1100.1 2009.4v9.0M1095.6 2013.9h9.0M1106.1 2047.7v9.0M1101.6 2052.2h9.0M1124 2047.7v9.0M1119.5 2052.2h9.0M1191.5 2113.3v9.0M1187 2117.8h9.0M1195.8 2113.3v9.0M1191.3 2117.8h9.0M1207 2113.3v9.0M1202.5 2117.8h9.0M1231.5 2113.3v9.0M1227 2117.8h9.0M1233.6 2113.3v9.0M1229.1 2117.8h9.0M1291.2 2213.3v9.0M1286.7 2217.8h9.0" stroke="#3f4c92" stroke-width="1.3" fill="none"/>
<polyline points="1055.1,1889.6 1059.6,1889.6 1059.75,1889.6 1059.75,1895.8 1059.9,1895.8 1059.9,1902 1060.05,1902 1060.05,1908.2 1060.2,1908.2 1060.2,1914.4 1061.07,1914.4 1061.07,1921.63 1061.93,1921.63 1061.93,1928.87 1062.8,1928.87 1062.8,1936.1 1064.07,1936.1 1064.07,1942.07 1065.33,1942.07 1065.33,1948.03 1066.6,1948.03 1066.6,1954 1069.1,1954 1069.1,1958.4 1069.53,1958.4 1069.53,1964.57 1069.97,1964.57 1069.97,1970.73 1070.4,1970.73 1070.4,1976.9 1071.03,1976.9 1071.03,1983.7 1071.67,1983.7 1071.67,1990.5 1072.3,1990.5 1072.3,1997.3 1073.9,1997.3 1073.9,2005.6 1075.5,2005.6 1075.5,2013.9 1077.4,2013.9 1077.4,2020.95 1079.3,2020.95 1079.3,2028 1080.3,2028 1080.3,2035.65 1081.3,2035.65 1081.3,2043.3 1087,2043.3 1087,2051.6 1088.25,2051.6 1088.25,2058.3 1089.5,2058.3 1089.5,2065 1091.9,2065 1091.9,2074.7 1092.43,2074.7 1092.43,2080.85 1092.95,2080.85 1092.95,2087 1093.47,2087 1093.47,2093.15 1094,2093.15 1094,2099.3 1097.5,2099.3 1097.5,2115 1111.6,2115 1111.6,2133 1120.7,2133 1120.7,2142.8 1127.7,2142.8 1127.7,2153.3 1131.9,2153.3 1131.9,2163.8 1140.3,2163.8 1140.3,2186.3 1143.1,2186.3 1143.1,2196.1 1150.2,2196.1 1150.2,2207.3 1169.8,2207.3 1169.8,2220 1183.8,2220 1183.8,2231.9 1218.9,2231.9 1218.9,2274 1494.4,2274" fill="none" stroke="#34945a" stroke-width="1.45" stroke-linejoin="miter"/>
<path d="M1069.1 1953.9v9.0M1064.6 1958.4h9.0M1076.1 2009.4v9.0M1071.6 2013.9h9.0M1080 2024.1v9.0M1075.5 2028.6h9.0M1080.6 2039.4v9.0M1076.1 2043.9h9.0M1084.4 2039.4v9.0M1079.9 2043.9h9.0M1092.7 2070.7v9.0M1088.2 2075.2h9.0M1104.6 2110.5v9.0M1100.1 2115h9.0M1108.8 2110.5v9.0M1104.3 2115h9.0M1112.3 2128.5v9.0M1107.8 2133h9.0M1120.7 2128.5v9.0M1116.2 2133h9.0M1122.1 2138.3v9.0M1117.6 2142.8h9.0M1126.3 2138.3v9.0M1121.8 2142.8h9.0M1131.9 2148.8v9.0M1127.4 2153.3h9.0M1164.2 2202.8v9.0M1159.7 2207.3h9.0M1191.5 2227.4v9.0M1187 2231.9h9.0M1195.1 2227.4v9.0M1190.6 2231.9h9.0M1218.2 2227.4v9.0M1213.7 2231.9h9.0M1268 2269.5v9.0M1263.5 2274h9.0M1494.4 2269.5v9.0M1489.9 2274h9.0" stroke="#34945a" stroke-width="1.3" fill="none"/>
</svg>
</body></html>
